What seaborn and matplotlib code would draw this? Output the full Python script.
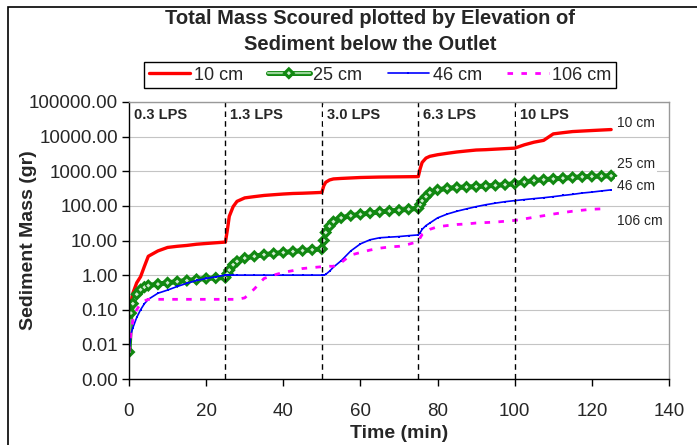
import numpy as np
import pandas as pd
import matplotlib
matplotlib.use("Agg")
import matplotlib.pyplot as plt
import matplotlib.ticker as mticker
import matplotlib.patheffects as pe
from matplotlib.patches import Rectangle
import seaborn as sns

sns.set_theme(style="white")
plt.rcParams["font.family"] = ["Liberation Sans", "DejaVu Sans"]

# time (min)
time = [0, 0.5, 1, 2, 3, 4, 5, 7.5, 10, 12.5, 15, 17.5, 20, 22.5, 25,
        25.5, 26, 27, 28, 30, 32.5, 35, 37.5, 40, 42.5, 45, 47.5, 50,
        50.5, 51, 52, 53, 55, 57.5, 60, 62.5, 65, 67.5, 70, 72.5, 75,
        75.5, 76, 77, 78, 80, 82.5, 85, 87.5, 90, 92.5, 95, 97.5, 100,
        102.5, 105, 107.5, 110, 112.5, 115, 117.5, 120, 122.5, 125]

mass_10cm = [0.006, 0.15, 0.3, 0.6, 0.9, 1.8, 3.5, 5.0, 6.3, 6.8, 7.2, 7.8, 8.2, 8.6, 9.0,
             20, 50, 95, 135, 170, 185, 200, 210, 220, 228, 232, 238, 245,
             380, 480, 560, 600, 620, 640, 660, 670, 680, 685, 690, 695, 700,
             1200, 1800, 2400, 2700, 3000, 3300, 3600, 3850, 4100, 4200, 4350, 4500, 4650,
             5800, 6900, 7800, 12000, 13000, 14000, 14500, 15000, 15500, 16000]

mass_25cm = [0.006, 0.08, 0.15, 0.28, 0.38, 0.45, 0.5, 0.55, 0.6, 0.65, 0.7, 0.75, 0.8, 0.83, 0.85,
             1.1, 1.4, 2.0, 2.5, 3.1, 3.5, 3.9, 4.2, 4.5, 4.8, 5.1, 5.4, 5.7,
             10, 17, 26, 35, 45, 52, 57, 62, 67, 71, 75, 80, 85,
             110, 140, 185, 240, 290, 320, 340, 350, 360, 375, 390, 410, 435,
             490, 540, 570, 600, 630, 660, 690, 710, 725, 740]

mass_46cm = [0.006, 0.02, 0.03, 0.06, 0.1, 0.15, 0.2, 0.3, 0.37, 0.47, 0.58, 0.7, 0.8, 0.9, 1.0,
             1.0, 1.0, 1.0, 1.0, 1.0, 1.0, 1.0, 1.0, 1.0, 1.0, 1.0, 1.0, 1.0,
             1.0, 1.05, 1.3, 1.7, 2.6, 5.0, 8.0, 10.5, 12, 12.5, 13, 13.8, 14.5,
             17, 21, 27, 32, 45, 58, 70, 82, 95, 108, 120, 132, 142,
             152, 162, 172, 185, 200, 215, 235, 250, 270, 290]

mass_106cm = [0.006, 0.02, 0.05, 0.1, 0.15, 0.18, 0.2, 0.2, 0.2, 0.2, 0.2, 0.2, 0.2, 0.2, 0.2,
              0.2, 0.2, 0.2, 0.2, 0.22, 0.4, 0.8, 1.0, 1.2, 1.35, 1.55, 1.65, 1.75,
              1.75, 1.75, 1.8, 1.8, 2.3, 3.8, 4.5, 5.3, 6.0, 6.5, 6.8, 7.8, 9.3,
              12, 15, 18, 21, 25, 27, 29, 30, 32, 33, 34, 36, 38,
              42, 47, 52, 58, 64, 70, 75, 80, 82, np.nan]

series_names = ["10 cm", "25 cm", "46 cm", "106 cm"]
flow_labels = ["0.3 LPS", "1.3 LPS", "3.0 LPS", "6.3 LPS", "10 LPS"]
flow_starts = [0, 25, 50, 75, 100]
end_label_y = [25000, 1600, 380, 37]

df = pd.DataFrame({"time": time, "10 cm": mass_10cm, "25 cm": mass_25cm,
                   "46 cm": mass_46cm, "106 cm": mass_106cm})

fig = plt.figure(figsize=(6.97, 4.45), dpi=100)
ax = fig.add_axes([129 / 697, 1 - 379 / 445, 540 / 697, 277 / 445])

sns.lineplot(data=df, x="time", y="10 cm", ax=ax, color="#ff0000", lw=2.4, label="10 cm")
sns.lineplot(data=df, x="time", y="25 cm", ax=ax, color="#9ad49a", lw=1.6, marker="D",
             markersize=3, markerfacecolor="#d0ecd0", markeredgecolor="#118811",
             markeredgewidth=0.9, label="25 cm",
             path_effects=[pe.Stroke(linewidth=3.6, foreground="#118811"), pe.Normal()])
sns.lineplot(data=df, x="time", y="46 cm", ax=ax, color="#0000ff", lw=1.2, marker="s",
             markersize=2, markeredgewidth=0, label="46 cm")
sns.lineplot(data=df, x="time", y="106 cm", ax=ax, color="#ff00ff", lw=2.0,
             linestyle=(0, (2, 3)), label="106 cm")

ax.set_yscale("log")
ax.set_ylim(0.001, 100000)
ax.set_xlim(0, 140)
ax.yaxis.set_major_locator(mticker.FixedLocator([10.0 ** k for k in range(-3, 6)]))
ax.yaxis.set_major_formatter(mticker.FuncFormatter(lambda v, p: f"{v:.2f}"))
ax.yaxis.set_minor_locator(mticker.LogLocator(base=10, subs=np.arange(2, 10)))
ax.yaxis.set_minor_formatter(mticker.NullFormatter())
ax.set_xticks(range(0, 141, 20))
ax.grid(True, axis="y", which="both", color="#c4c4c4", lw=0.8)
ax.set_axisbelow(True)
ax.tick_params(axis="both", which="major", direction="out", length=5, width=1,
               labelsize=13.5, color="black", bottom=True, left=True)
ax.tick_params(axis="y", which="minor", length=0)
ax.tick_params(axis="y", pad=3)
ax.tick_params(axis="x", pad=12)

for side in ["left", "bottom"]:
    ax.spines[side].set_color("black")
    ax.spines[side].set_linewidth(1)
for side in ["top", "right"]:
    ax.spines[side].set_color("#999999")
    ax.spines[side].set_linewidth(1)

for x0 in flow_starts[1:]:
    ax.axvline(x0, color="black", lw=1, linestyle=(0, (4, 3)))

trans = ax.get_xaxis_transform()
for x0, lab in zip(flow_starts, flow_labels):
    ax.text(x0 + 1.3, 0.952, lab, transform=trans, fontsize=10.5, fontweight="bold",
            ha="left", va="center",
            bbox=dict(facecolor="white", edgecolor="none", pad=2.5))

for name, yv in zip(series_names, end_label_y):
    ax.text(126.5, yv, name, fontsize=10, ha="left", va="center",
            bbox=dict(facecolor="white", edgecolor="none", pad=1.5))

ax.set_xlabel("Time (min)", fontsize=14, fontweight="bold", labelpad=4)
ax.set_ylabel("Sediment Mass (gr)", fontsize=14, fontweight="bold")
ax.yaxis.set_label_coords((37 - 129) / 540, 0.5)

fig.text(0.531, 1 - 18 / 445, "Total Mass Scoured plotted by Elevation of", ha="center",
         va="center", fontsize=14.5, fontweight="bold")
fig.text(0.531, 1 - 44 / 445, "Sediment below the Outlet", ha="center",
         va="center", fontsize=14.5, fontweight="bold")

ax.legend(loc="center", bbox_to_anchor=(380 / 697, 1 - 75 / 445),
          bbox_transform=fig.transFigure, ncol=4, fontsize=13, frameon=True,
          fancybox=False, edgecolor="black", framealpha=1, handlelength=2.3,
          handletextpad=0.2, columnspacing=1.4, borderpad=0.25)
ax.get_legend().get_frame().set_linewidth(1)

fig.patches.append(Rectangle((8 / 697, -0.01), 1.0, 1 - 7 / 445 + 0.01,
                             transform=fig.transFigure, fill=False,
                             edgecolor="black", lw=1.2))

fig.savefig("out.png", dpi=100)
